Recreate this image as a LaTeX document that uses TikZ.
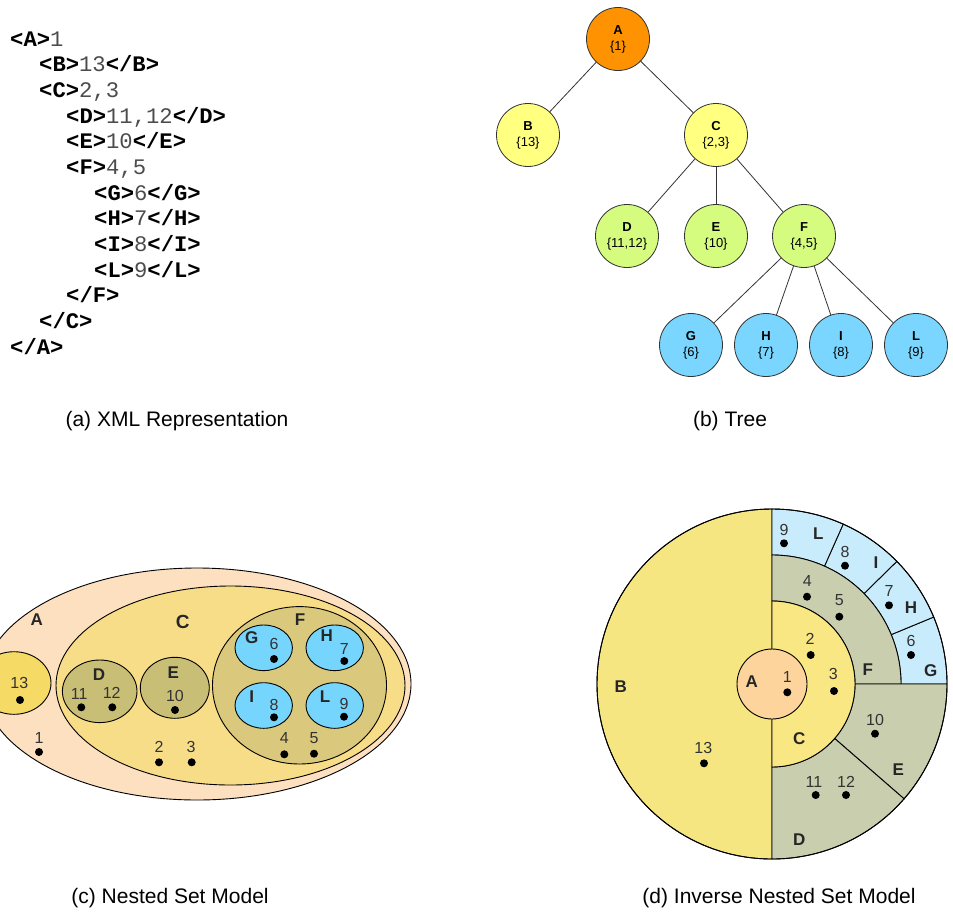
\documentclass[tikz,border=0pt]{standalone}
\usepackage{fontspec}
\setmainfont{Liberation Sans}
\newfontfamily\xmlfont{Liberation Mono}

\definecolor{treeA}{HTML}{FF9200}
\definecolor{treeBC}{HTML}{FFFF80}
\definecolor{treeDEF}{HTML}{D5FB7F}
\definecolor{treeG}{HTML}{7AD6FE}
\definecolor{nsA}{HTML}{FDE0C0}
\definecolor{nsB}{HTML}{F6DA66}
\definecolor{nsC}{HTML}{F8DD88}
\definecolor{nsF}{HTML}{DAC97C}
\definecolor{nsDE}{HTML}{C9BE76}
\definecolor{nsG}{HTML}{76D5FD}
\definecolor{insA}{HTML}{FDD49C}
\definecolor{insB}{HTML}{F6E682}
\definecolor{insC}{HTML}{F8E782}
\definecolor{insF}{HTML}{C9CEAE}
\definecolor{insG}{HTML}{C9ECFC}

\newcommand\tg[1]{\textbf{#1}}
\newcommand\tv[1]{\textcolor{black!70}{#1}}

\begin{document}
\begin{tikzpicture}[x=1pt,y=-1pt]
\useasboundingbox (0,0) rectangle (953,911);

    \tikzset{
        xmlline/.style={anchor=base west,inner sep=0pt,font=\xmlfont\fontsize{22.2}{26}\selectfont},
        treenode/.style={draw=black!80,line width=0.8pt,shape=circle,minimum size=63pt,inner sep=0pt,align=center,font=\fontsize{13}{16}\selectfont},
        treeedge/.style={draw=black!80,line width=0.8pt},
        caption/.style={font=\fontsize{21}{25}\selectfont},
        setedge/.style={draw=black,line width=0.9pt},
        setname/.style={inner sep=0pt,text=black!85,font=\bfseries\fontsize{17}{20}\selectfont},
        setnum/.style={inner sep=0pt,text=black!80,font=\fontsize{16}{19}\selectfont},
        dot/.style={fill=black}
    }

    % (a) xml
    \node[xmlline] (x1) at (10,46) {\tg{<A>}\tv{1}};
    \node[xmlline] (x2) at (39,71.7) {\tg{<B>}\tv{13}\tg{</B>}};
    \node[xmlline] (x3) at (39,97.3) {\tg{<C>}\tv{2,3}};
    \node[xmlline] (x4) at (66,123) {\tg{<D>}\tv{11,12}\tg{</D>}};
    \node[xmlline] (x5) at (66,148.7) {\tg{<E>}\tv{10}\tg{</E>}};
    \node[xmlline] (x6) at (66,174.3) {\tg{<F>}\tv{4,5}};
    \node[xmlline] (x7) at (94,200) {\tg{<G>}\tv{6}\tg{</G>}};
    \node[xmlline] (x8) at (94,225.7) {\tg{<H>}\tv{7}\tg{</H>}};
    \node[xmlline] (x9) at (94,251.3) {\tg{<I>}\tv{8}\tg{</I>}};
    \node[xmlline] (x10) at (94,277) {\tg{<L>}\tv{9}\tg{</L>}};
    \node[xmlline] (x11) at (66,302.7) {\tg{</F>}};
    \node[xmlline] (x12) at (39,328.3) {\tg{</C>}};
    \node[xmlline] (x13) at (10,354) {\tg{</A>}};

    % (b) tree
    \node[treenode,fill=treeA] (tA) at (618,39) {\textbf{A}\\\{1\}};
    \node[treenode,fill=treeBC] (tB) at (528,135) {\textbf{B}\\\{13\}};
    \node[treenode,fill=treeBC] (tC) at (716,135) {\textbf{C}\\\{2,3\}};
    \node[treenode,fill=treeDEF] (tD) at (627,236) {\textbf{D}\\\{11,12\}};
    \node[treenode,fill=treeDEF] (tE) at (716,236) {\textbf{E}\\\{10\}};
    \node[treenode,fill=treeDEF] (tF) at (804,236) {\textbf{F}\\\{4,5\}};
    \node[treenode,fill=treeG] (tG) at (691,345) {\textbf{G}\\\{6\}};
    \node[treenode,fill=treeG] (tH) at (766,345) {\textbf{H}\\\{7\}};
    \node[treenode,fill=treeG] (tI) at (841,345) {\textbf{I}\\\{8\}};
    \node[treenode,fill=treeG] (tL) at (916,345) {\textbf{L}\\\{9\}};

    \draw[treeedge] (tA) -- (tB);
    \draw[treeedge] (tA) -- (tC);
    \foreach \k in {D,E,F} \draw[treeedge] (tC) -- (t\k);
    \foreach \k in {G,H,I,L} \draw[treeedge] (tF) -- (t\k);

    % (c) nested sets
    \begin{scope}
        \clip (0,540) rectangle (430,830);
        \filldraw[setedge,fill=nsA] (197,684) ellipse[x radius=214pt,y radius=116pt];
        \filldraw[setedge,fill=nsB] (14,683) ellipse[x radius=37pt,y radius=31.3pt];
        \filldraw[setedge,fill=nsC] (230.5,685.5) ellipse[x radius=174.5pt,y radius=99.5pt];
        \filldraw[setedge,fill=nsDE] (99.7,691.3) ellipse[x radius=37.3pt,y radius=31.3pt];
        \filldraw[setedge,fill=nsDE] (174.8,687.8) ellipse[x radius=34.5pt,y radius=30.5pt];
        \filldraw[setedge,fill=nsF] (299.5,685.3) ellipse[x radius=87pt,y radius=78.7pt];
        \foreach \x/\y in {263.7/647.8,334.7/647.8,263.7/705.5,334.7/705.5}
            \filldraw[setedge,fill=nsG] (\x,\y) ellipse[x radius=28.7pt,y radius=22.8pt];
    \end{scope}

    \node[setname] (cA) at (36.7,620) {A};
    \node[setname,font=\bfseries\fontsize{19}{22}\selectfont] (cC) at (182.7,621.7) {C};
    \node[setname] (cF) at (300,619.3) {F};
    \node[setname] (cG) at (251.7,637.7) {G};
    \node[setname] (cH) at (326.7,636) {H};
    \node[setname] (cI) at (251.7,696.7) {I};
    \node[setname] (cL) at (325,696.7) {L};
    \node[setname] (cD) at (99,675) {D};
    \node[setname] (cE) at (173.3,672.3) {E};

    \foreach \n/\lx/\ly/\dx/\dy in {13/19.3/683.3/20/700, 1/39/737.7/39/752,
        11/79.3/694/81.3/707.3, 12/111.7/693.3/112.3/707.3, 10/175/696/175/710,
        2/159/746.7/159/762.3, 3/191/746.7/191.7/762.3, 6/274/644.3/274/659,
        7/344.3/648.7/344.3/661, 8/274/705/274/717.3, 9/344/704/344/716.7,
        4/284.3/738.3/284.3/754.3, 5/314/737.7/314/753.7}{
        \node[setnum] (cn\n) at (\lx,\ly) {\n};
        \fill[dot] (\dx,\dy) circle[radius=4pt];
    }

    % (d) inverse nested sets
    \begin{scope}[shift={(772,684)},y=1pt]
        \filldraw[setedge,fill=insB] (90:175) arc[start angle=90,end angle=270,radius=175] -- cycle;
        \foreach \a/\b in {0/22.5,22.5/44.5,44.5/66,66/90}
            \filldraw[setedge,fill=insG] (\a:129) -- (\a:175) arc[start angle=\a,end angle=\b,radius=175]
                -- (\b:129) arc[start angle=\b,end angle=\a,radius=129] -- cycle;
        \foreach \a/\b/\r in {0/90/129,-41/0/175,-90/-41/175}
            \filldraw[setedge,fill=insF] (\a:83) -- (\a:\r) arc[start angle=\a,end angle=\b,radius=\r]
                -- (\b:83) arc[start angle=\b,end angle=\a,radius=83] -- cycle;
        \filldraw[setedge,fill=insC] (-90:83) arc[start angle=-90,end angle=90,radius=83] -- cycle;
        \filldraw[setedge,fill=insA] (0,0) circle[radius=35];
        \draw[setedge] (0,0) circle[radius=175];
    \end{scope}

    \node[setname] (dB) at (620.7,686.7) {B};
    \node[setname] (dA) at (751.7,681.7) {A};
    \node[setname] (dC) at (799.3,738.3) {C};
    \node[setname] (dF) at (867.7,670) {F};
    \node[setname] (dL) at (818.3,533.3) {L};
    \node[setname] (dI) at (876,562.7) {I};
    \node[setname] (dH) at (911,607.3) {H};
    \node[setname] (dG) at (930.7,670.7) {G};
    \node[setname] (dE) at (898.3,769.3) {E};
    \node[setname] (dD) at (799.3,839.3) {D};

    \foreach \n/\lx/\ly/\dx/\dy in {1/787.3/676.7/787.3/692.3, 2/810/639.3/810.7/655,
        3/833.3/674/834/691, 4/807.3/581/807/596.7, 5/839.3/600/839.3/616.7,
        9/784/530/784/543.3, 8/845/552.3/845/565.7, 7/889/590.7/889/605.3,
        6/911/640.7/911/655, 10/875/720/875/733.7, 11/814/781.7/815.7/795,
        12/846/781.7/846/795, 13/703.3/747.7/704/763.3}{
        \node[setnum] (dn\n) at (\lx,\ly) {\n};
        \fill[dot] (\dx,\dy) circle[radius=4pt];
    }

    % captions
    \node[caption] (capa) at (177,421) {(a) XML Representation};
    \node[caption] (capb) at (730,421) {(b) Tree};
    \node[caption] (capc) at (170,898) {(c) Nested Set Model};
    \node[caption] (capd) at (779,898) {(d) Inverse Nested Set Model};
\end{tikzpicture}
\end{document}
